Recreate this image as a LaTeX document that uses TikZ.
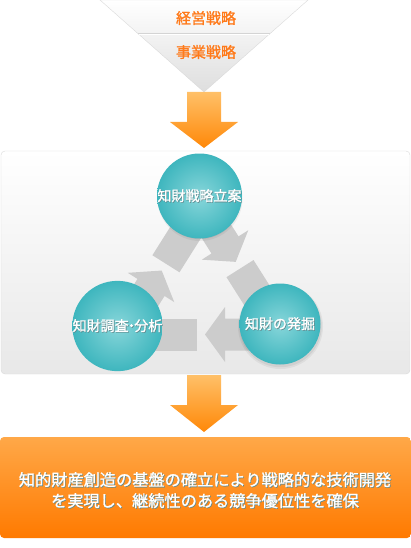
\documentclass[tikz,border=0pt]{standalone}
\usepackage{fontspec}
\newfontfamily\jpb[FakeBold=1.3]{Noto Sans CJK JP}
\definecolor{funneltext}{RGB}{255,122,26}
\definecolor{arrowtop}{RGB}{255,192,104}
\definecolor{arrowbot}{RGB}{255,136,8}
\definecolor{boxtop}{RGB}{255,168,72}
\definecolor{boxbot}{RGB}{255,122,0}
\definecolor{tealin}{RGB}{136,214,218}
\definecolor{tealout}{RGB}{62,182,190}
\definecolor{cyclegrey}{RGB}{204,204,204}
\definecolor{glowcol}{RGB}{30,90,95}
\definecolor{panelline}{RGB}{218,218,218}
\newcommand\glowtxt[1]{\makebox[0pt][l]{\hspace{0.7pt}\raisebox{-0.7pt}{\textcolor{glowcol!70}{#1}}}#1}
\newcommand\middot{\kern-0.3em・\kern-0.3em}
\newcommand\cyclepiece{%
  \fill[cyclegrey] (10,16) -- (55,16) -- (55,27.5) -- (75,0) -- (55,-27.5) -- (55,-16) -- (10,-16) -- cycle;
  \fill[cyclegrey] (83,16) rectangle (150,-16);}
\tikzset{
  funnellabel/.style={text=funneltext, font=\jpb\fontsize{15}{17}\selectfont, inner sep=0pt},
  bigarrow/.style={top color=arrowtop, bottom color=arrowbot, draw=none},
  ball/.style={circle, minimum size=81pt, inner sep=0pt, inner color=tealin, outer color=tealout,
    text=white, font=\jpb\fontsize{14}{16}\selectfont},
  resulttext/.style={text=white, font=\jpb\fontsize{16.2}{21}\selectfont, align=center, inner sep=0pt}
}
\begin{document}
\begin{tikzpicture}[x=1pt,y=-1pt]
\useasboundingbox (0,0) rectangle (411,548);
% funnel
\shade[top color=white, bottom color=black!13, draw=panelline] (100,0) -- (308,0) -- (204,92) -- cycle;
\draw[black!17] (137.6,33) -- (270.4,33);
\draw[white] (138.7,34) -- (269.3,34);
\node[funnellabel] (mgmt) at (206,18) {経営戦略};
\node[funnellabel] (biz) at (206,52) {事業戦略};
% top arrow
\shade[bigarrow] (187,92) -- (221,92) -- (221,122) -- (238,122) -- (204,148) -- (170,122) -- (187,122) -- cycle;
% panel
\shade[top color=white, bottom color=black!9, draw=panelline, rounded corners=4pt] (1,151) rectangle (410,374);
% cycle arrows
\begin{scope}[shift={(195.6,198.5)}, rotate=-57.66]\cyclepiece\end{scope}
\begin{scope}[shift={(280,334.5)}, rotate=180]\cyclepiece\end{scope}
\begin{scope}[shift={(121.7,334)}, rotate=57.79]\cyclepiece\end{scope}
% circle shadows
\foreach \cx/\cy in {199.5/196, 280/324, 117.5/326}{
  \fill[black, opacity=0.05] (\cx+0.5,\cy+2.5) circle (42.5);
  \fill[black, opacity=0.06] (\cx+0.5,\cy+2) circle (41.2);
}
\node[ball] (plan) at (199.5,196) {\glowtxt{知財戦略立案}};
\node[ball] (find) at (280,324) {\glowtxt{知財の発掘}};
\node[ball] (survey) at (117.5,326) {\glowtxt{知財調査\middot 分析}};
% bottom arrow
\shade[bigarrow] (187,375) -- (221,375) -- (221,405) -- (238,405) -- (204,432) -- (170,405) -- (187,405) -- cycle;
% result box
\shade[top color=boxtop, bottom color=boxbot, rounded corners=4pt] (0,437) rectangle (411,538);
\node[resulttext] (goal) at (205,490.5) {\glowtxt{知的財産創造の基盤の確立により戦略的な技術開発}\\\glowtxt{を実現し、継続性のある競争優位性を確保}};
\end{tikzpicture}
\end{document}
